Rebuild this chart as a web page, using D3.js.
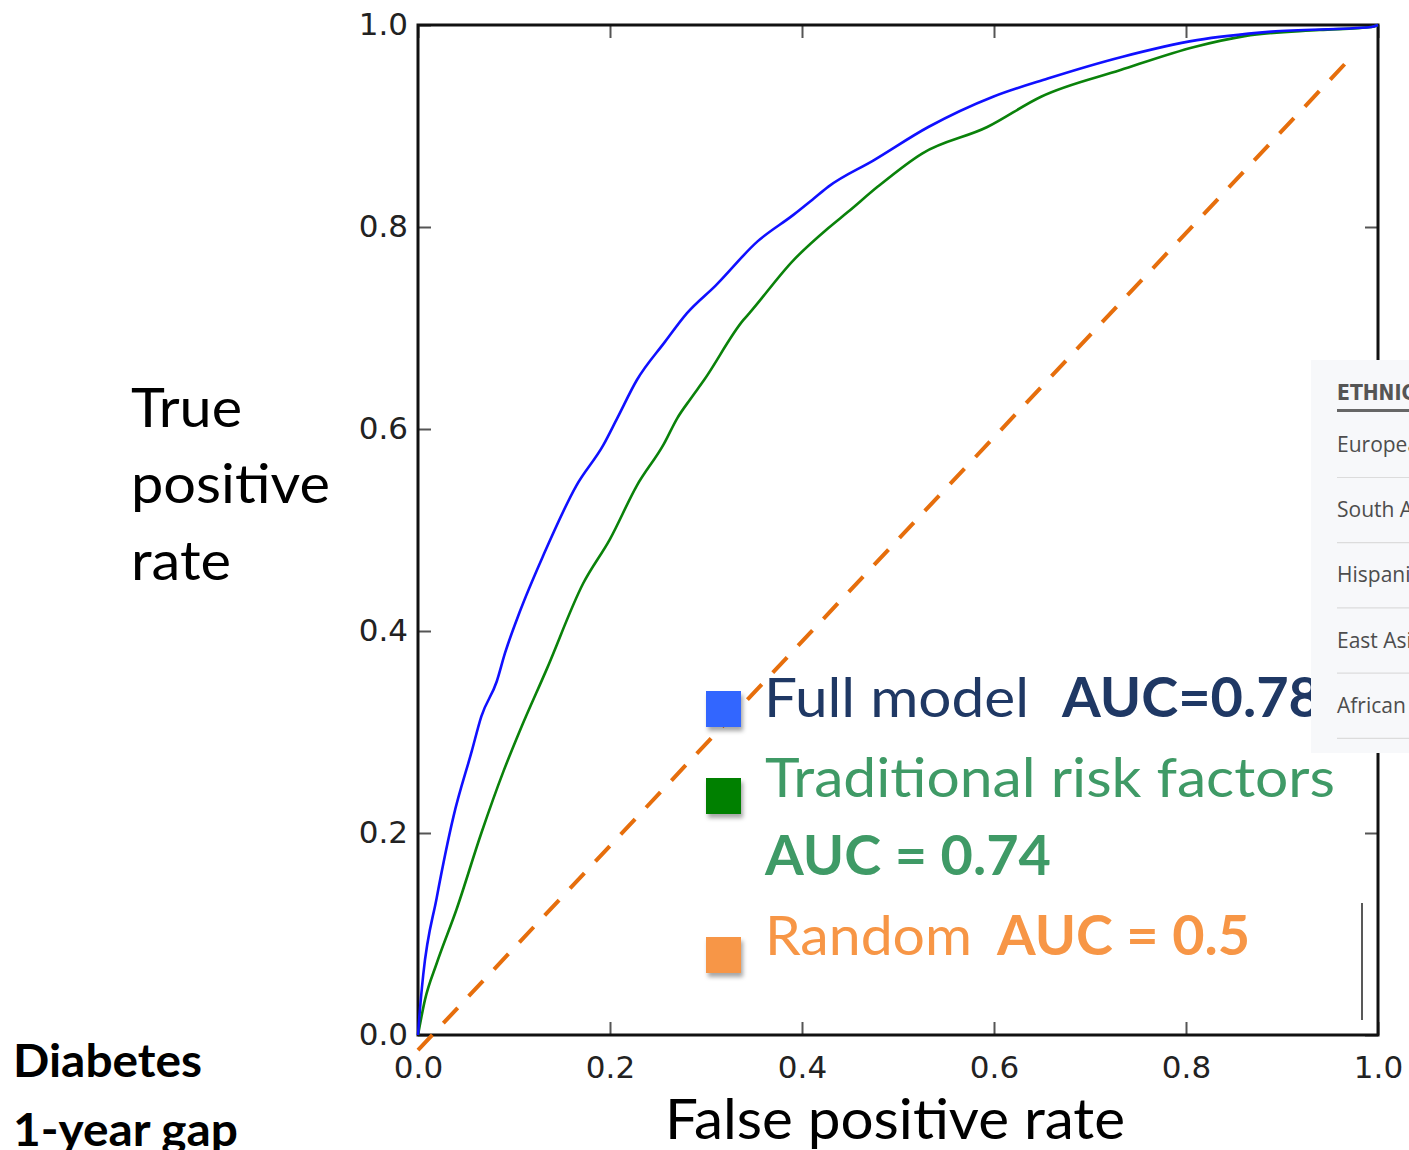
<!DOCTYPE html>
<html>
<head>
<meta charset="utf-8">
<script src="https://cdn.jsdelivr.net/npm/d3@7"></script>
<style>
  html, body { margin: 0; padding: 0; background: #fff; overflow: hidden; }
  svg { display: block; }
</style>
</head>
<body>
<div class="chart"></div>
<script>
//tick values shared by both axes
var tickVals = [0, 0.2, 0.4, 0.6, 0.8, 1.0];

//roc curve of the full model [fpr, tpr]
var fullModel = [
  [0, 0], [0.0014, 0.018], [0.0055, 0.060], [0.0195, 0.136], [0.037, 0.2165],
  [0.056, 0.281], [0.066, 0.3155], [0.082, 0.350], [0.0906, 0.378], [0.106, 0.419],
  [0.1306, 0.475], [0.165, 0.544], [0.193, 0.584], [0.2077, 0.611], [0.228, 0.6485],
  [0.257, 0.686], [0.280, 0.7145], [0.310, 0.742], [0.354, 0.786], [0.391, 0.812],
  [0.412, 0.828], [0.4275, 0.840], [0.4746, 0.866], [0.5316, 0.899], [0.599, 0.929],
  [0.656, 0.947], [0.734, 0.9686], [0.8115, 0.985], [0.889, 0.9934], [0.993, 0.998], [1, 1]
];

//roc curve of the traditional risk factors model
var traditional = [
  [0, 0], [0.0073, 0.035], [0.0195, 0.071], [0.040, 0.124], [0.066, 0.200],
  [0.089, 0.261], [0.106, 0.301], [0.134, 0.362], [0.172, 0.447], [0.200, 0.491],
  [0.228, 0.544], [0.256, 0.585], [0.270, 0.6106], [0.284, 0.630], [0.298, 0.6485],
  [0.339, 0.708], [0.345, 0.7145], [0.391, 0.767], [0.4275, 0.799], [0.448, 0.815],
  [0.479, 0.840], [0.5255, 0.873], [0.593, 0.899], [0.649, 0.929], [0.7318, 0.9554],
  [0.8097, 0.9785], [0.861, 0.989], [0.939, 0.995], [0.993, 0.998], [1, 1]
];

//the random guess line as it was pasted on the slide
var randomLine = [[0, -0.015], [0.972, 0.968]];

//legend text pieces
var legendLabels = ["Full model", "Traditional risk factors", "Random"];
var legendAucs = ["AUC=0.78", "AUC = 0.74", "AUC = 0.5"];

//rows of the ethnicity list on the right
var ethnicHeader = "ETHNICITY";
var ethnicRows = ["European", "South Asian", "Hispanic", "East Asian", "African"];

const w = 1409;
const h = 1150;
const plotL = 418, plotR = 1378, plotT = 25, plotB = 1035;

const svg = d3.select(".chart")
  .append("svg")
  .attr("width", w)
  .attr("height", h);

//shadow for the legend squares
svg.append("defs")
  .append("filter")
  .attr("id", "shadow")
  .attr("x", "-30%").attr("y", "-30%").attr("width", "170%").attr("height", "170%")
  .append("feDropShadow")
  .attr("dx", 2).attr("dy", 4).attr("stdDeviation", 2)
  .attr("flood-color", "#000").attr("flood-opacity", 0.35);

//scales
const xScale = d3.scaleLinear().domain([0, 1]).range([plotL, plotR]);
const yScale = d3.scaleLinear().domain([0, 1]).range([plotB, plotT]);

//axes, ticks point inward like old matplotlib
function styleAxis(g) {
  g.select(".domain").remove();
  g.selectAll(".tick line").attr("stroke", "#555").attr("stroke-width", 2);
  g.selectAll(".tick text")
    .attr("fill", "#222")
    .style("font-family", "'DejaVu Sans', sans-serif")
    .style("font-size", "31px");
}

svg.append("g")
  .attr("transform", "translate(0," + plotB + ")")
  .call(d3.axisBottom(xScale).tickValues(tickVals).tickSize(-13).tickPadding(21)
    .tickFormat(d3.format(".1f")))
  .call(styleAxis);

svg.append("g")
  .attr("transform", "translate(" + plotL + ",0)")
  .call(d3.axisLeft(yScale).tickValues(tickVals).tickSize(-13).tickPadding(10)
    .tickFormat(d3.format(".1f")))
  .call(styleAxis);

svg.append("g")
  .attr("transform", "translate(0," + plotT + ")")
  .call(d3.axisTop(xScale).tickValues(tickVals).tickSize(-13).tickFormat(""))
  .call(styleAxis);

svg.append("g")
  .attr("transform", "translate(" + plotR + ",0)")
  .call(d3.axisRight(yScale).tickValues(tickVals).tickSize(-13).tickFormat(""))
  .call(styleAxis);

//frame
svg.append("rect")
  .attr("x", plotL).attr("y", plotT)
  .attr("width", plotR - plotL).attr("height", plotB - plotT)
  .attr("fill", "none")
  .attr("stroke", "#111")
  .attr("stroke-width", 3);

//lines
const line = d3.line()
  .x((d) => xScale(d[0]))
  .y((d) => yScale(d[1]));

const smooth = d3.line()
  .curve(d3.curveMonotoneX)
  .x((d) => xScale(d[0]))
  .y((d) => yScale(d[1]));

svg.append("path")
  .datum(randomLine)
  .attr("d", line)
  .attr("fill", "none")
  .attr("stroke", "#e66e0c")
  .attr("stroke-width", 4)
  .attr("stroke-dasharray", "21 16");

svg.append("path")
  .datum(traditional)
  .attr("d", smooth)
  .attr("fill", "none")
  .attr("stroke", "#0a820a")
  .attr("stroke-width", 2.6)
  .attr("stroke-linejoin", "round");

svg.append("path")
  .datum(fullModel)
  .attr("d", smooth)
  .attr("fill", "none")
  .attr("stroke", "#1010ff")
  .attr("stroke-width", 2.6)
  .attr("stroke-linejoin", "round");

//helper for the slide text (calibri look alike, squeezed to width)
function slideText(txt, x, y, size, weight, color, len) {
  svg.append("text")
    .attr("x", x)
    .attr("y", y)
    .attr("fill", color)
    .attr("textLength", len)
    .attr("lengthAdjust", "spacingAndGlyphs")
    .style("font-family", "Lato, 'Open Sans', sans-serif")
    .style("font-size", size + "px")
    .style("font-weight", weight)
    .text(txt);
}

//legend squares
var squareColors = ["#3366ff", "#008000", "#f79646"];
var squareY = [691, 778, 937];
svg.selectAll(".swatch")
  .data(squareColors)
  .enter()
  .append("rect")
  .attr("class", "swatch")
  .attr("x", 706)
  .attr("y", (d, i) => squareY[i])
  .attr("width", 35)
  .attr("height", 36)
  .attr("fill", (d) => d)
  .attr("filter", "url(#shadow)");

//legend text
slideText(legendLabels[0], 764, 717, 55, 400, "#1f3864", 265);
slideText(legendAucs[0], 1062, 717, 55, 700, "#1f3864", 259);
slideText(legendLabels[1], 765, 797, 55, 400, "#3f9a66", 570);
slideText(legendAucs[1], 765, 875, 55, 700, "#3f9a66", 286);
slideText(legendLabels[2], 765, 955, 55, 400, "#f79646", 207);
slideText(legendAucs[2], 997, 955, 55, 700, "#f79646", 253);

//axis titles
slideText("True", 131, 427, 55, 400, "#000", 111);
slideText("positive", 131, 503, 55, 400, "#000", 199);
slideText("rate", 131, 580, 55, 400, "#000", 100);
slideText("False positive rate", 665, 1139, 56, 400, "#000", 460);

//panel label bottom left
slideText("Diabetes", 13, 1077, 45, 700, "#000", 189);
slideText("1-year gap", 13, 1146, 45, 700, "#000", 225);

//stray line left over on the slide
svg.append("line")
  .attr("x1", 1362).attr("x2", 1362)
  .attr("y1", 903).attr("y2", 1020)
  .attr("stroke", "#222")
  .attr("stroke-width", 1.5);

//ethnicity list pasted over the right edge
svg.append("rect")
  .attr("x", 1311).attr("y", 360)
  .attr("width", w - 1311).attr("height", 393)
  .attr("fill", "#f7f8fa");

svg.append("text")
  .attr("x", 1337).attr("y", 400)
  .attr("fill", "#555")
  .style("font-family", "'DejaVu Sans Condensed', 'DejaVu Sans', sans-serif")
  .style("font-stretch", "condensed")
  .style("font-size", "21px")
  .style("font-weight", "bold")
  .text(ethnicHeader);

svg.append("rect")
  .attr("x", 1337).attr("y", 409)
  .attr("width", w - 1337).attr("height", 3)
  .attr("fill", "#666");

svg.selectAll(".ethnic")
  .data(ethnicRows)
  .enter()
  .append("text")
  .attr("class", "ethnic")
  .attr("x", 1337)
  .attr("y", (d, i) => 452 + i * 65.2)
  .attr("fill", "#4d4d4d")
  .style("font-family", "'Open Sans', sans-serif")
  .style("font-size", "21px")
  .text((d) => d);

svg.selectAll(".sep")
  .data(ethnicRows)
  .enter()
  .append("line")
  .attr("class", "sep")
  .attr("x1", 1337).attr("x2", w)
  .attr("y1", (d, i) => 477.5 + i * 65.2)
  .attr("y2", (d, i) => 477.5 + i * 65.2)
  .attr("stroke", "#dcdcdc")
  .attr("stroke-width", 1.2);
</script>
</body>
</html>
